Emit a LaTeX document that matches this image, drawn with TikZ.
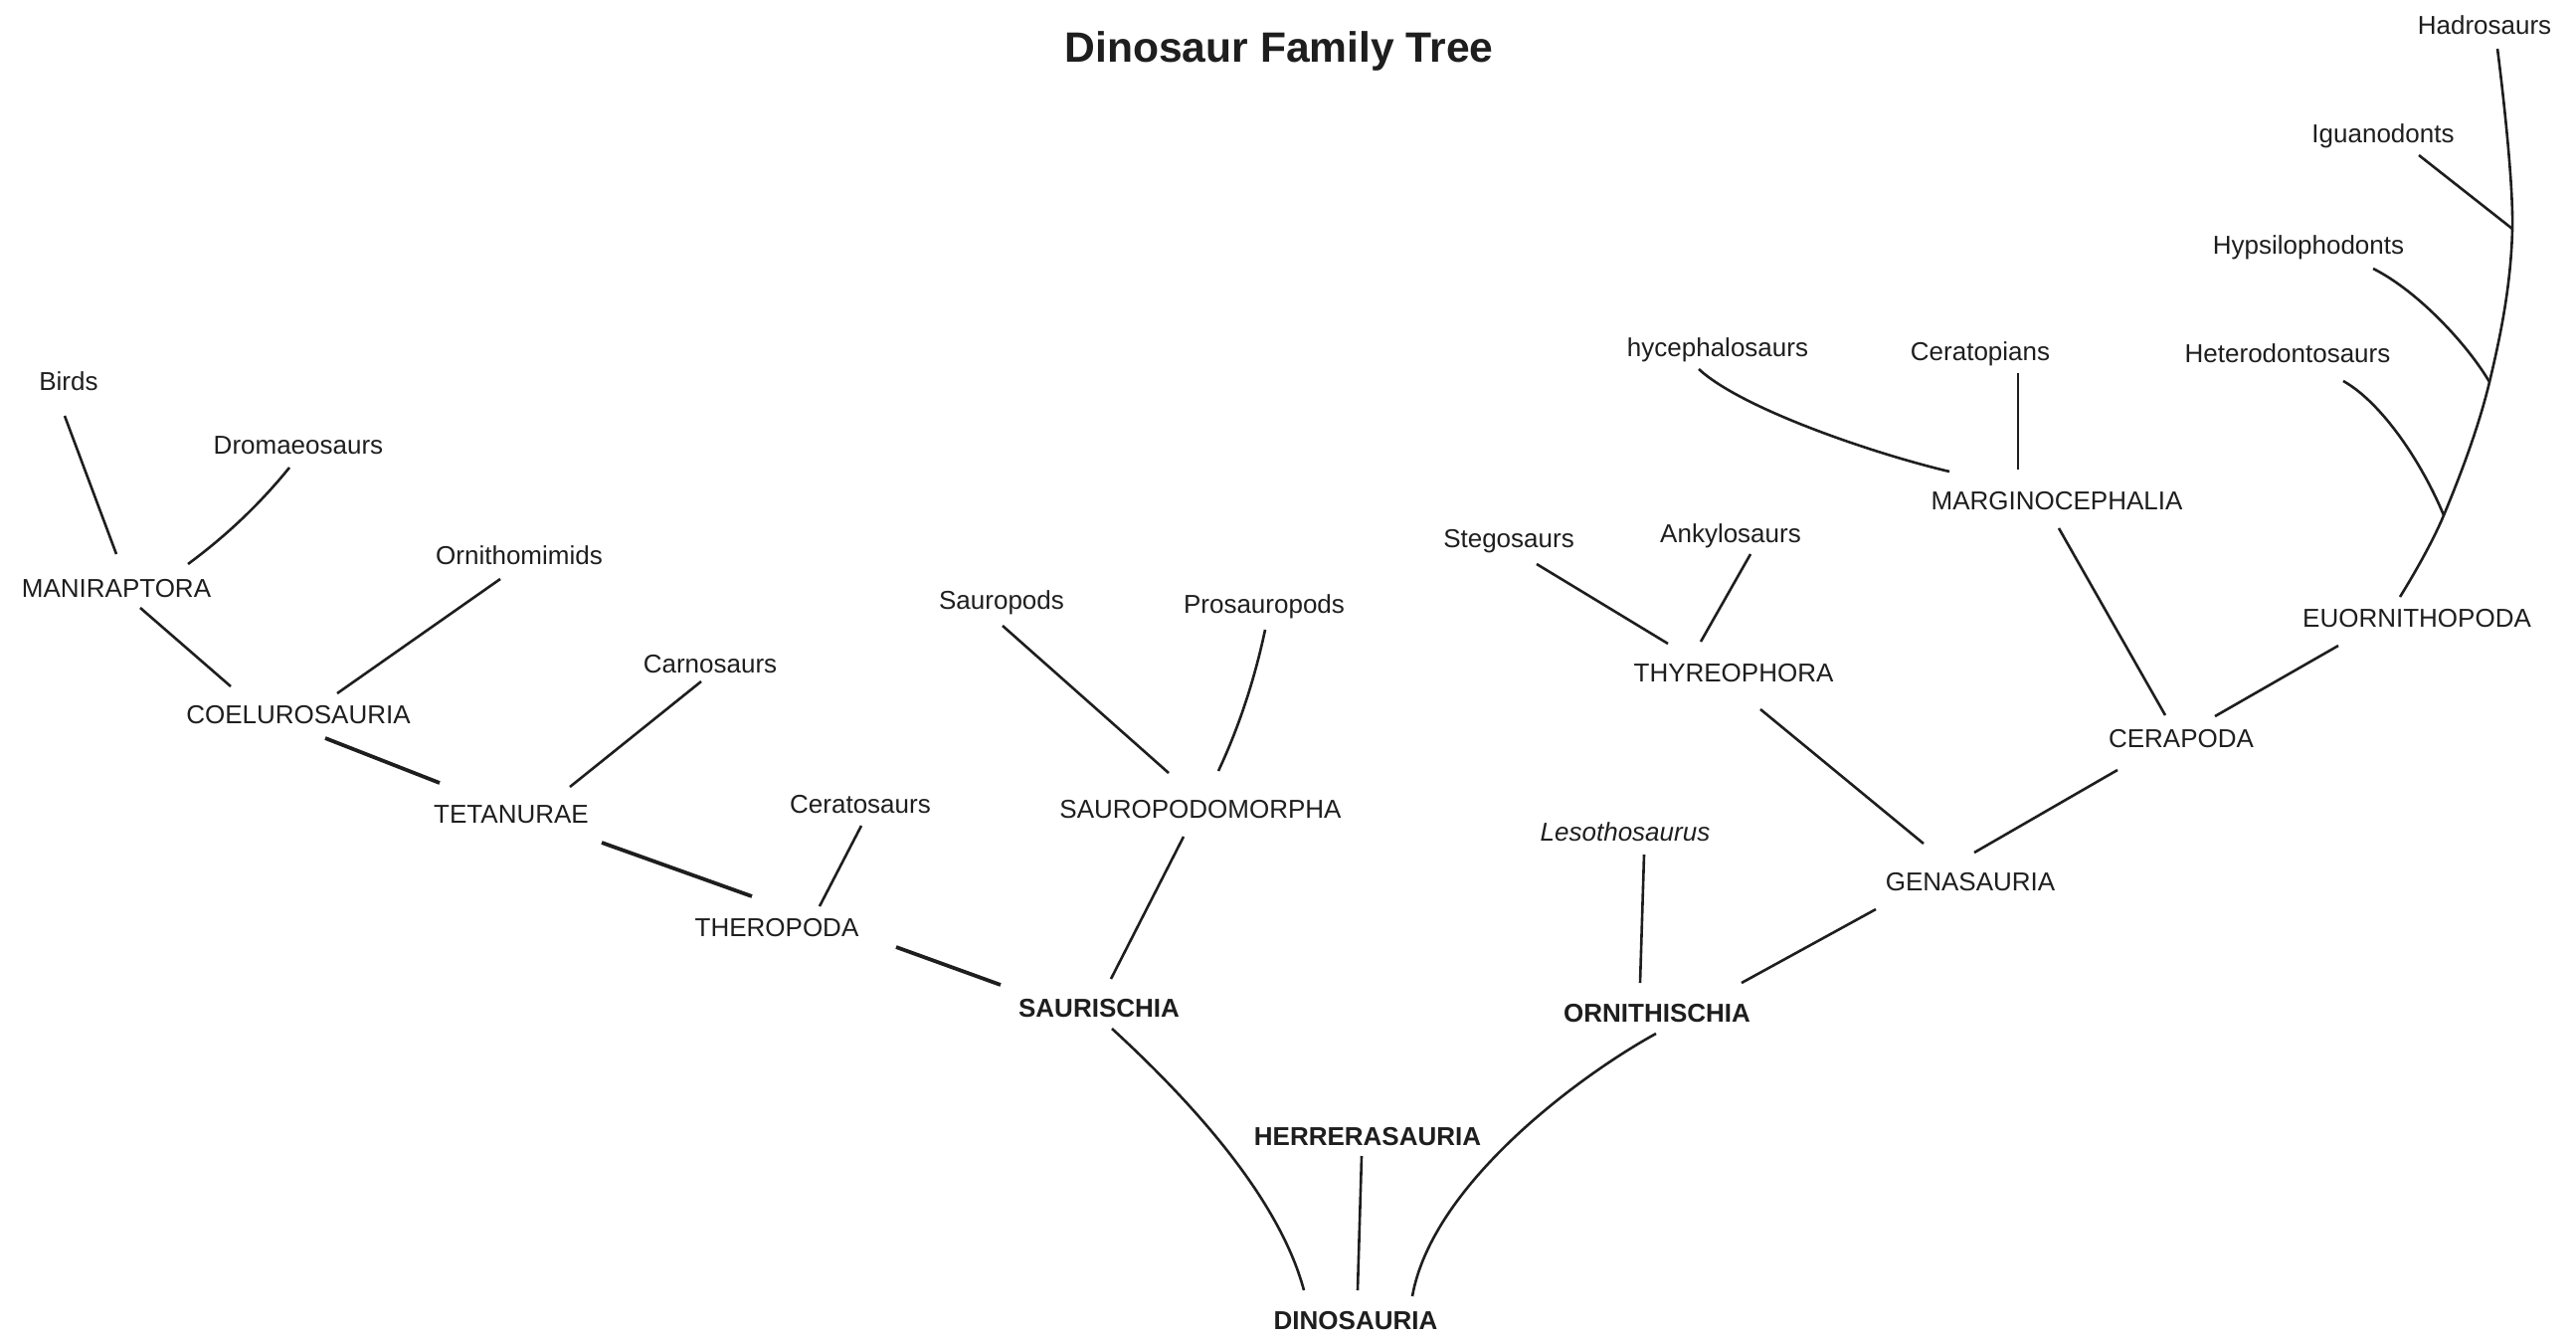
\documentclass[tikz,border=0pt]{standalone}
\usepackage{fontspec}
\setmainfont{Liberation Sans}
\definecolor{ink}{RGB}{30,30,30}
\begin{document}
\begin{tikzpicture}[x=1pt,y=-1pt,
  lab/.style={inner sep=0pt, text height=18.6pt, text depth=0pt, font=\fontsize{26}{30}\selectfont, text=ink},
  blab/.style={lab, font=\fontsize{26}{30}\selectfont\bfseries},
  ilab/.style={lab, font=\fontsize{26}{30}\selectfont\itshape},
  edge/.style={draw=ink, line width=2.6pt},
  heavy/.style={draw=ink, line width=3.8pt}]
\useasboundingbox (0,0) rectangle (2590,1345);

% title
\node[font=\fontsize{42.6}{48}\selectfont\bfseries, text=ink, inner sep=0pt, text height=30.5pt, text depth=0pt] (title) at (1286,47) {Dinosaur Family Tree};

% saurischian side
\node[lab] (birds) at (69,383) {Birds};
\node[lab] (drom) at (300,447) {Dromaeosaurs};
\node[lab] (mani) at (117,591) {MANIRAPTORA};
\node[lab] (ornm) at (522,558) {Ornithomimids};
\node[lab] (coel) at (300,718) {COELUROSAURIA};
\node[lab] (carn) at (714,667) {Carnosaurs};
\node[lab] (teta) at (514,818) {TETANURAE};
\node[lab] (cera) at (865,808) {Ceratosaurs};
\node[lab] (ther) at (781,932) {THEROPODA};
\node[lab] (saup) at (1007,603) {Sauropods};
\node[lab] (pros) at (1271,607) {Prosauropods};
\node[lab] (spm) at (1207,813) {SAUROPODOMORPHA};
\node[blab] (saur) at (1105,1013) {SAURISCHIA};
\node[blab] (herr) at (1375,1142) {HERRERASAURIA};
\node[blab] (dino) at (1363,1327) {DINOSAURIA};

% ornithischian side
\node[ilab] (leso) at (1634,836) {Lesothosaurus};
\node[blab] (orni) at (1666,1018) {ORNITHISCHIA};
\node[lab] (gena) at (1981,886) {GENASAURIA};
\node[lab] (steg) at (1517,541) {Stegosaurs};
\node[lab] (anky) at (1740,536) {Ankylosaurs};
\node[lab] (thyr) at (1743,676) {THYREOPHORA};
\node[lab] (pach) at (1727,349) {hycephalosaurs};
\node[lab] (ctop) at (1991,353) {Ceratopians};
\node[lab] (marg) at (2068,503) {MARGINOCEPHALIA};
\node[lab] (cerp) at (2193,742) {CERAPODA};
\node[lab] (euor) at (2430,621) {EUORNITHOPODA};
\node[lab] (hete) at (2300,355) {Heterodontosaurs};
\node[lab] (hyps) at (2321,246) {Hypsilophodonts};
\node[lab] (igua) at (2396,134) {Iguanodonts};
\node[lab] (hadr) at (2498,25) {Hadrosaurs};

% junctions on the ornithopod spine
\coordinate (jIg) at (2526,230);
\coordinate (jHy) at (2503,384);
\coordinate (jHe) at (2457,518);

% connectors, saurischian side
\draw[edge] ([shift={(-4,35)}]birds.center) -- ([shift={(0,-34)}]mani.center);
\draw[edge] ([shift={(-9,23)}]drom.center) .. controls (261,507) and (227,539) .. ([shift={(72,-24)}]mani.center);
\draw[edge] ([shift={(24,20)}]mani.center) -- ([shift={(-68,-28)}]coel.center);
\draw[edge] ([shift={(-19,24)}]ornm.center) -- ([shift={(39,-21)}]coel.center);
\draw[heavy] ([shift={(27,24)}]coel.center) -- ([shift={(-72,-31)}]teta.center);
\draw[edge] ([shift={(-9,18)}]carn.center) -- ([shift={(59,-27)}]teta.center);
\draw[heavy] ([shift={(91,29)}]teta.center) -- ([shift={(-25,-31)}]ther.center);
\draw[edge] ([shift={(1,22)}]cera.center) -- ([shift={(43,-21)}]ther.center);
\draw[heavy] ([shift={(120,20)}]ther.center) -- ([shift={(-99,-23)}]saur.center);
\draw[edge] ([shift={(1,26)}]saup.center) -- ([shift={(-32,-36)}]spm.center);
\draw[edge] ([shift={(1,26)}]pros.center) .. controls (1262,680) and (1247,728) .. ([shift={(18,-38)}]spm.center);
\draw[edge] ([shift={(-17,28)}]spm.center) -- ([shift={(12,-29)}]saur.center);
\draw[edge] ([shift={(13,21)}]saur.center) .. controls (1190,1100) and (1285,1200) .. ([shift={(-52,-30)}]dino.center);
\draw[edge] ([shift={(-6,20)}]herr.center) -- ([shift={(2,-30)}]dino.center);

% connectors, ornithischian side
\draw[edge] ([shift={(-1,21)}]orni.center) .. controls (1590,1080) and (1440,1190) .. ([shift={(57,-24)}]dino.center);
\draw[edge] ([shift={(19,23)}]leso.center) -- ([shift={(-17,-30)}]orni.center);
\draw[edge] ([shift={(-95,28)}]gena.center) -- ([shift={(85,-30)}]orni.center);
\draw[edge] ([shift={(27,37)}]thyr.center) -- ([shift={(-47,-38)}]gena.center);
\draw[edge] ([shift={(-64,32)}]cerp.center) -- ([shift={(4,-29)}]gena.center);
\draw[edge] ([shift={(28,26)}]steg.center) -- ([shift={(-66,-29)}]thyr.center);
\draw[edge] ([shift={(20,21)}]anky.center) -- ([shift={(-33,-31)}]thyr.center);
\draw[edge] ([shift={(2,28)}]marg.center) -- ([shift={(-16,-23)}]cerp.center);
\draw[edge] ([shift={(-79,28)}]euor.center) -- ([shift={(34,-22)}]cerp.center);
\draw[edge] ([shift={(-19,22)}]pach.center) .. controls (1750,410) and (1880,455) .. ([shift={(-108,-29)}]marg.center);
\draw[edge] ([shift={(38,22)}]ctop.center) -- ([shift={(-39,-31)}]marg.center);
\draw[edge] ([shift={(56,28)}]hete.center) .. controls (2395,405) and (2435,465) .. (jHe);
\draw[edge] ([shift={(65,24)}]hyps.center) .. controls (2430,292) and (2480,345) .. (jHy);
\draw[edge] ([shift={(36,22)}]igua.center) -- (jIg);
\draw[edge] plot[smooth, tension=0.6] coordinates {([shift={(13,24)}]hadr.center) (jIg) (jHy) (jHe) ([shift={(-17,-21)}]euor.center)};
\end{tikzpicture}
\end{document}
